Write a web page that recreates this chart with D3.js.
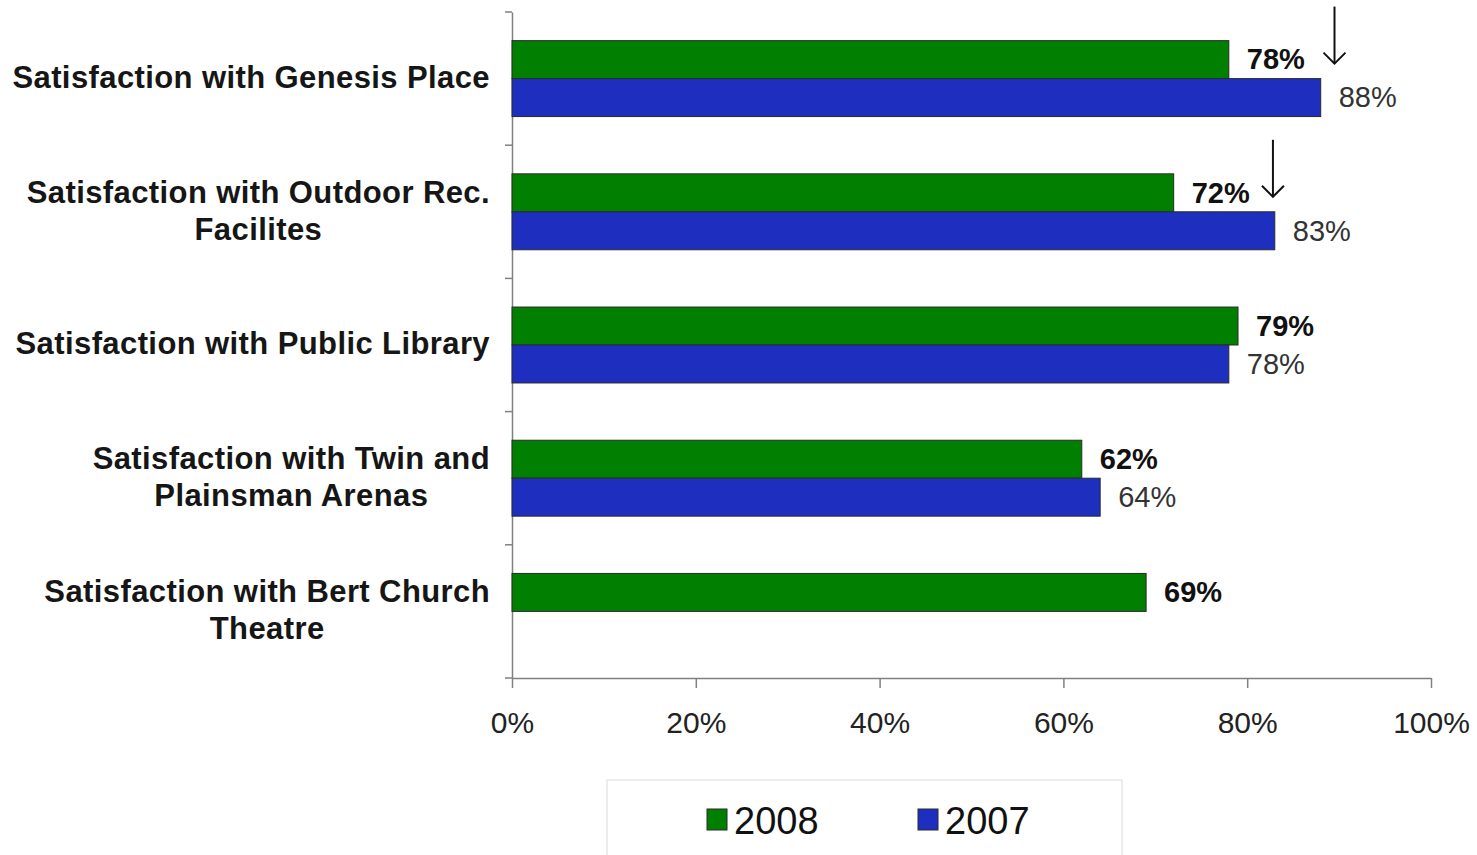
<!DOCTYPE html>
<html>
<head>
<meta charset="utf-8">
<script src="https://cdn.jsdelivr.net/npm/d3@7"></script>
<style>
  body { margin: 0; background: #fff; }
  svg { display: block; font-family: Arial, "Liberation Sans", sans-serif; }
  .axis path, .axis line { stroke: #808080; stroke-width: 1.5; }
  .axis text { font-size: 30px; fill: #222; }
  .cat { font-size: 31px; font-weight: bold; fill: #161616; letter-spacing: 0.4px; }
  .val { font-size: 29px; }
</style>
</head>
<body>
<svg id="chart" width="1477" height="855"></svg>
<script>
const categories = [
    ["Satisfaction with Genesis Place"],
    ["Satisfaction with Outdoor Rec.", "Facilites"],
    ["Satisfaction with Public Library"],
    ["Satisfaction with Twin and", "Plainsman Arenas"],
    ["Satisfaction with Bert Church", "Theatre"]
];
const seriesNames = ["2008", "2007"];
const values2008 = [78, 72, 79, 62, 69];
const values2007 = [88, 83, 78, 64, null];
const xTicks = [0, 20, 40, 60, 80, 100];
// down arrows drawn over the 2007 bars (category index, x position in %)
const arrows = [
    {cat: 0, at: 89.5},
    {cat: 1, at: 82.8}
];

const colors = {"2008": "#007f00", "2007": "#1e2ebe"};
const width = 1477, height = 855;
const padding = {top: 12, right: 46, bottom: 177, left: 512};
const innerW = width - padding.left - padding.right;
const innerH = height - padding.top - padding.bottom;

const svg = d3.select("#chart");
const g = svg.append("g")
    .attr("transform", `translate(${padding.left},${padding.top})`);

const x = d3.scaleLinear().domain([0, 100]).range([0, innerW]);
const yCat = d3.scaleBand().domain(d3.range(categories.length)).range([0, innerH]);
const yGroup = d3.scaleBand().domain(d3.range(categories.length)).range([0, innerH])
    .paddingInner(0.43).paddingOuter(0.215);
const ySer = d3.scaleBand().domain(seriesNames).range([0, yGroup.bandwidth()]);

const rows = categories.map((c, i) => ({
    i: i,
    label: c,
    vals: [{s: "2008", v: values2008[i]}, {s: "2007", v: values2007[i]}].filter(d => d.v != null)
}));

// axes
const xAxis = d3.axisBottom(x)
    .tickValues(xTicks)
    .tickFormat(d => d + "%")
    .tickSizeInner(10)
    .tickSizeOuter(0)
    .tickPadding(24);
g.append("g")
    .attr("class", "axis x")
    .attr("transform", `translate(0,${innerH})`)
    .call(xAxis);

const yAxis = d3.axisLeft(yCat)
    .tickValues([])
    .tickSizeOuter(0);
const yg = g.append("g").attr("class", "axis y").call(yAxis);
yg.selectAll(".bnd").data(d3.range(categories.length + 1))
    .enter().append("line")
    .attr("class", "bnd")
    .attr("x1", -7).attr("x2", 0)
    .attr("y1", d => d * yCat.step())
    .attr("y2", d => d * yCat.step());

// bars
const grp = g.selectAll(".grp").data(rows).enter()
    .append("g")
    .attr("class", "grp")
    .attr("transform", d => `translate(0,${yGroup(d.i)})`);

grp.selectAll("rect").data(d => d.vals).enter()
    .append("rect")
    .attr("x", 0)
    .attr("y", d => ySer(d.s))
    .attr("width", d => x(d.v))
    .attr("height", ySer.bandwidth())
    .attr("fill", d => colors[d.s])
    .attr("stroke", "#2a2a2a")
    .attr("stroke-width", 1);

grp.selectAll("text.val").data(d => d.vals).enter()
    .append("text")
    .attr("class", "val")
    .attr("x", d => x(d.v) + 18)
    .attr("y", d => ySer(d.s) + ySer.bandwidth() / 2)
    .attr("dy", "0.34em")
    .attr("font-weight", d => d.s === "2008" ? "bold" : "normal")
    .attr("fill", d => d.s === "2008" ? "#111" : "#333")
    .text(d => d.v + "%");

// category labels, centred lines, longest line ending at the axis gap
const labelRight = -22;
const lineH = 37;
g.selectAll(".cat").data(rows).enter()
    .append("text")
    .attr("class", "cat")
    .attr("text-anchor", "middle")
    .each(function (d) {
        const t = d3.select(this);
        const n = d.label.length;
        d.label.forEach((ln, k) => {
            t.append("tspan")
                .attr("x", 0)
                .attr("y", yCat(d.i) + yCat.bandwidth() / 2 + (k - (n - 1) / 2) * lineH)
                .attr("dy", "0.3em")
                .text(ln);
        });
        let w = 0;
        t.selectAll("tspan").each(function () { w = Math.max(w, this.getComputedTextLength()); });
        t.selectAll("tspan").attr("x", labelRight - w / 2);
    });

// arrows
const arr = g.selectAll(".arrow").data(arrows).enter()
    .append("g")
    .attr("class", "arrow")
    .attr("stroke", "#111")
    .attr("stroke-width", 2)
    .attr("fill", "none");
arr.each(function (d) {
    const tipY = yGroup(d.cat) + ySer("2007") - 15;
    const ax = x(d.at);
    const a = d3.select(this);
    a.append("line").attr("x1", ax).attr("x2", ax).attr("y1", tipY - 57).attr("y2", tipY);
    a.append("path").attr("d", `M${ax - 11},${tipY - 11} L${ax},${tipY} L${ax + 11},${tipY - 11}`);
});

// legend
const legend = svg.append("g").attr("transform", "translate(607,780)");
legend.append("rect")
    .attr("x", 0).attr("y", 0)
    .attr("width", 515).attr("height", 90)
    .attr("fill", "#fff")
    .attr("stroke", "#e8e8e8")
    .attr("stroke-width", 1.5);
const legX = [100, 311];
const li = legend.selectAll(".li").data(seriesNames).enter()
    .append("g")
    .attr("transform", (d, i) => `translate(${legX[i]},0)`);
li.append("rect")
    .attr("x", 0).attr("y", 29)
    .attr("width", 20).attr("height", 21)
    .attr("fill", d => colors[d])
    .attr("stroke", "#2a2a2a");
li.append("text")
    .attr("x", 27).attr("y", 40)
    .attr("dy", "0.36em")
    .attr("font-size", 38)
    .attr("fill", "#111")
    .text(d => d);
</script>
</body>
</html>
